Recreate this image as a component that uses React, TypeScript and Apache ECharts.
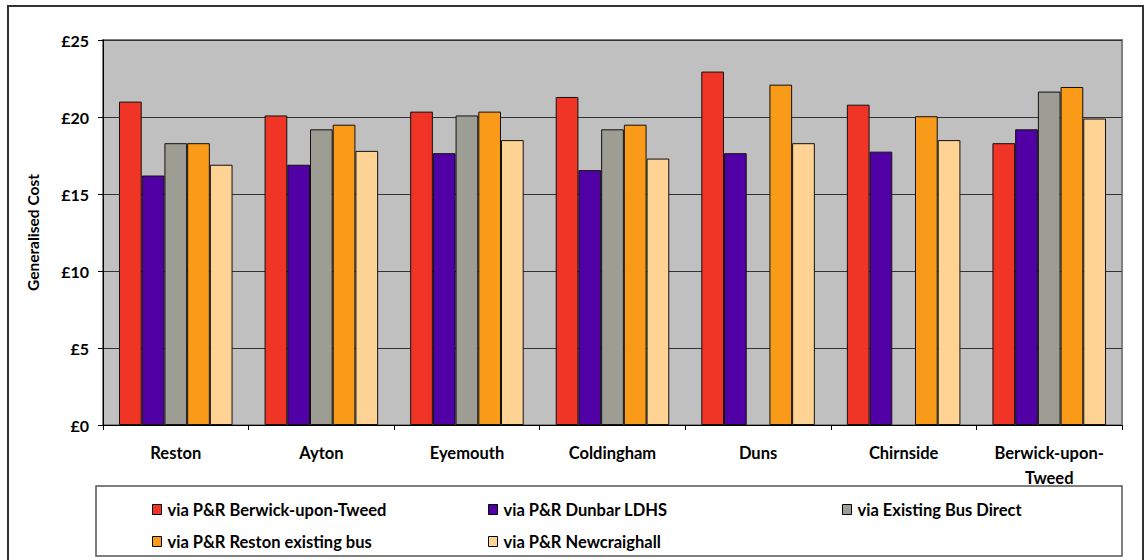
import React, { useEffect, useRef } from "react";
import * as echarts from "echarts";

const categories = ["Reston", "Ayton", "Eyemouth", "Coldingham", "Duns", "Chirnside", "Berwick-upon-\nTweed"];
const seriesNames = [
  "via P&R Berwick-upon-Tweed",
  "via P&R Dunbar LDHS",
  "via Existing Bus Direct",
  "via P&R Reston existing bus",
  "via P&R Newcraighall",
];
const berwickPR = [21.0, 20.1, 20.35, 21.3, 22.95, 20.8, 18.3];
const dunbarPR = [16.2, 16.9, 17.65, 16.55, 17.65, 17.75, 19.2];
const existingBus = [18.3, 19.2, 20.1, 19.2, null, null, 21.65];
const restonPR = [18.3, 19.5, 20.35, 19.5, 22.1, 20.05, 21.95];
const newcraighallPR = [16.9, 17.8, 18.5, 17.3, 18.3, 18.5, 19.9];
const seriesData = [berwickPR, dunbarPR, existingBus, restonPR, newcraighallPR];
const colors = ["#F03526", "#5000A5", "#9D9D94", "#FA9A19", "#FFD394"];

const FONT = "Lato";

export default function App() {
  const ref = useRef<HTMLDivElement>(null);
  useEffect(() => {
    if (!ref.current) return;
    const chart = echarts.init(ref.current, undefined, { renderer: "svg" });
    const legendPos = [
      [147, 496],
      [483, 496],
      [837, 496],
      [147, 528],
      [483, 528],
    ];
    chart.setOption({
      animation: false,
      textStyle: { fontFamily: FONT },
      grid: {
        left: 103,
        right: 26,
        top: 40,
        bottom: 135,
        show: true,
        backgroundColor: "#C0C0C0",
        borderColor: "#808080",
        borderWidth: 2,
      },
      legend: seriesNames.map((n, i) => ({
        data: [n],
        left: legendPos[i][0],
        top: legendPos[i][1],
        itemWidth: 9,
        itemHeight: 10,
        itemGap: 7,
        icon: "rect",
        itemStyle: { borderColor: "#000", borderWidth: 1 },
        textStyle: { fontFamily: FONT, fontWeight: "bold", fontSize: 16.5, color: "#000", padding: [0, 0, 0, 1] },
        selectedMode: false,
      })),
      xAxis: {
        type: "category",
        data: categories,
        axisLine: { lineStyle: { color: "#000", width: 1 } },
        axisTick: { show: true, length: 5, lineStyle: { color: "#000" } },
        axisLabel: {
          fontFamily: FONT,
          fontWeight: "bold",
          fontSize: 16.5,
          color: "#000",
          margin: 15,
          lineHeight: 25,
          interval: 0,
        },
      },
      yAxis: {
        type: "value",
        min: 0,
        max: 25,
        interval: 5,
        name: "Generalised Cost",
        nameLocation: "middle",
        nameRotate: 90,
        nameGap: 62,
        nameTextStyle: { fontFamily: FONT, fontWeight: "bold", fontSize: 15.5, color: "#000" },
        axisLine: { show: true, lineStyle: { color: "#000", width: 1 } },
        axisTick: { show: true, length: 5, lineStyle: { color: "#000" } },
        axisLabel: {
          formatter: "£{value}",
          fontFamily: FONT,
          fontWeight: "bold",
          fontSize: 16,
          color: "#000",
          margin: 14,
        },
        splitLine: { show: true, lineStyle: { color: "#333", width: 1 } },
      },
      series: seriesNames.map((n, i) => ({
        name: n,
        type: "bar",
        data: seriesData[i],
        barGap: "0%",
        barCategoryGap: "22%",
        itemStyle: { color: colors[i], borderColor: "#111", borderWidth: 1 },
      })),
      graphic: [
        {
          type: "rect",
          shape: { x: 8, y: 6, width: 1135, height: 560 },
          style: { fill: "none", stroke: "#333", lineWidth: 2 },
          silent: true,
        },
        {
          type: "rect",
          shape: { x: 96, y: 486, width: 1026, height: 70 },
          style: { fill: "none", stroke: "#555", lineWidth: 1.5 },
          silent: true,
        },
      ],
    });
    return () => chart.dispose();
  }, []);
  return <div ref={ref} style={{ width: 1148, height: 560, position: "absolute", left: 0, top: 0 }} />;
}
